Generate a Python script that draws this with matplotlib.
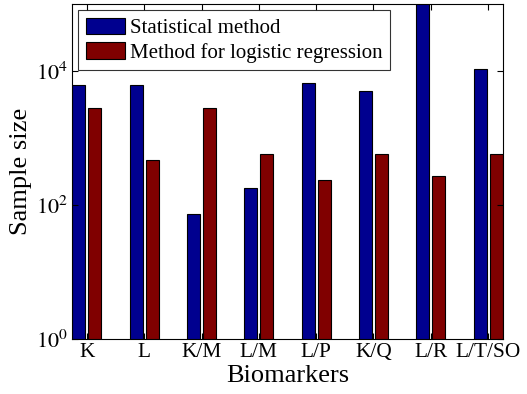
import matplotlib
matplotlib.use("Agg")
import matplotlib.pyplot as plt
import numpy as np
from matplotlib.ticker import FixedLocator, NullLocator

plt.rcParams['font.family'] = ['Liberation Serif', 'DejaVu Serif']
plt.rcParams['mathtext.fontset'] = 'stix'

categories = ["K", "L", "K/M", "L/M", "L/P", "K/Q", "L/R", "L/T/SO"]
statistical = [6200, 6100, 73, 180, 6600, 5000, 200000, 10700]
logistic = [2800, 470, 2800, 575, 236, 575, 270, 575]
series_names = ["Statistical method", "Method for logistic regression"]

fig = plt.figure(figsize=(5.27, 3.94), dpi=100)
ax = fig.add_axes([0.1366, 0.1396, 0.8179, 0.8502])

x = np.arange(1, len(categories) + 1)
w = 0.225
off = 0.14
ax.bar(x - off, statistical, width=w, color='#00008F', edgecolor='black', linewidth=0.8, label=series_names[0])
ax.bar(x + off, logistic, width=w, color='#800000', edgecolor='black', linewidth=0.8, label=series_names[1])

ax.set_yscale('log')
ax.set_ylim(1, 1e5)
ax.set_xlim(0.74, 8.26)
ax.yaxis.set_major_locator(FixedLocator([1, 1e2, 1e4]))
ax.yaxis.set_minor_locator(NullLocator())
ax.set_yticklabels([r'$10^0$', r'$10^2$', r'$10^4$'], fontsize=16)
ax.set_xticks(x)
ax.set_xticklabels(categories, fontsize=15.4)
ax.tick_params(direction='in', top=True, right=True, length=4, width=0.8, pad=3)
ax.set_xlabel("Biomarkers", fontsize=19, labelpad=2)
ax.set_ylabel("Sample size", fontsize=19, labelpad=3)

leg = ax.legend(loc='upper left', fontsize=15, frameon=True, fancybox=False,
                edgecolor='black', handlelength=1.9, handleheight=0.85,
                borderaxespad=0.3, labelspacing=0.2, handletextpad=0.25, borderpad=0.35)
leg.get_frame().set_linewidth(0.8)

fig.savefig("out.png", dpi=100)
